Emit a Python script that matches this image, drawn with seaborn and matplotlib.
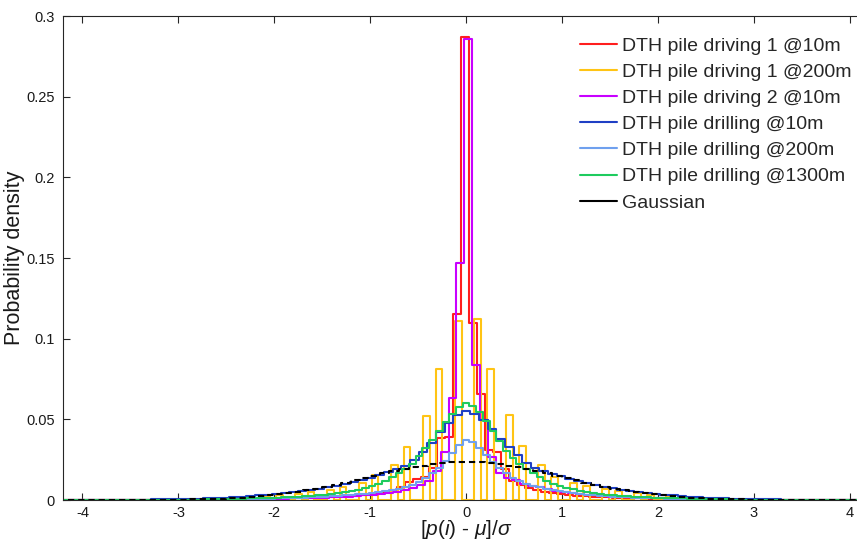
import numpy as np
import pandas as pd
import matplotlib
matplotlib.use("Agg")
import matplotlib.pyplot as plt
from matplotlib.lines import Line2D
import seaborn as sns

# ---------------- data ----------------
series_names = [
    "DTH pile driving 1 @10m",
    "DTH pile driving 1 @200m",
    "DTH pile driving 2 @10m",
    "DTH pile drilling @10m",
    "DTH pile drilling @200m",
    "DTH pile drilling @1300m",
    "Gaussian",
]
colors = ["#FF1E1E", "#FFC414", "#C800FF", "#1F3FC4", "#6FA0EE", "#1ECB5E", "#000000"]

tail_left = [-4.3, -3.5, -3.0, -2.5]
tail_right = [2.5, 3.0, 3.5, 4.3]

# DTH pile driving 1 @10m (bin centres -0.01 + 0.083 k)
red_x = list(tail_left) + list(np.round(-0.01 + 0.083 * np.arange(-24, 25), 4)) + list(tail_right)
red_y = [0.0, 0.0001, 0.0002, 0.0004,
         0.0007, 0.0008, 0.0009, 0.0010, 0.0011, 0.0012, 0.0014, 0.0016, 0.0019, 0.0022, 0.0026, 0.0031,
         0.0036, 0.0043, 0.0050, 0.0060, 0.0078, 0.0112, 0.0130, 0.0140, 0.0200, 0.0385, 0.0390, 0.1150,
         0.2870,
         0.1100, 0.0660, 0.0310, 0.0300, 0.0190, 0.0120, 0.0095, 0.0075, 0.0062, 0.0052, 0.0045, 0.0038,
         0.0032, 0.0027, 0.0023, 0.0020, 0.0018, 0.0016, 0.0014, 0.0012, 0.0011, 0.0010, 0.0009, 0.0008,
         0.0004, 0.0002, 0.0001, 0.0]

# DTH pile driving 1 @200m (bin centres -0.08 + 0.0667 k)
yellow_x = [-4.3] + list(np.round(-0.08 + 0.0667 * np.arange(-36, 37), 4)) + [4.3]
yellow_y = [0.0,
            0.0, 0.0014, 0.0, 0.0018, 0.0, 0.0, 0.0024, 0.0, 0.0031, 0.0, 0.0, 0.0040, 0.0, 0.0050,
            0.0, 0.0, 0.0062, 0.0, 0.0083, 0.0, 0.0, 0.0105, 0.0, 0.0155, 0.0, 0.0, 0.0220, 0.0,
            0.0330, 0.0, 0.0, 0.0520, 0.0, 0.0810, 0.0, 0.0,
            0.1110,
            0.0, 0.0, 0.1120, 0.0, 0.0810, 0.0, 0.0, 0.0527, 0.0, 0.0335, 0.0, 0.0, 0.0217, 0.0,
            0.0145, 0.0, 0.0, 0.0107, 0.0, 0.0087, 0.0, 0.0, 0.0068, 0.0, 0.0054, 0.0, 0.0, 0.0042,
            0.0, 0.0033, 0.0, 0.0, 0.0025, 0.0, 0.0019, 0.0,
            0.0]

# DTH pile driving 2 @10m (bin centres 0.024 + 0.083 k)
purple_x = list(tail_left) + list(np.round(0.024 + 0.083 * np.arange(-24, 25), 4)) + list(tail_right)
purple_y = [0.0, 0.0001, 0.0002, 0.0004,
            0.0008, 0.0009, 0.0010, 0.0011, 0.0012, 0.0013, 0.0015, 0.0017, 0.0019, 0.0021, 0.0024, 0.0028,
            0.0032, 0.0037, 0.0043, 0.0050, 0.0060, 0.0072, 0.0090, 0.0120, 0.0180, 0.0300, 0.0630, 0.1470,
            0.2855,
            0.0835, 0.0496, 0.0268, 0.0165, 0.0135, 0.0122, 0.0102, 0.0088, 0.0078, 0.0068, 0.0058, 0.0050,
            0.0043, 0.0037, 0.0032, 0.0028, 0.0024, 0.0021, 0.0019, 0.0017, 0.0015, 0.0013, 0.0012, 0.0011,
            0.0004, 0.0002, 0.0001, 0.0]

# DTH pile drilling @10m (bin centres 0.09 k)
blue_x = list(np.round(0.09 * np.arange(-46, 47), 4))
blue_y = [0.0001, 0.0001, 0.0001, 0.0001, 0.0001, 0.0002, 0.0002, 0.0002, 0.0003, 0.0003, 0.0004, 0.0005,
          0.0006, 0.0007, 0.0008, 0.0009, 0.0011, 0.0013, 0.0015, 0.0018, 0.0021, 0.0024, 0.0028, 0.0032,
          0.0037, 0.0042, 0.0047, 0.0054, 0.0061, 0.0069, 0.0078, 0.0088, 0.0099, 0.0111, 0.0124, 0.0138,
          0.0155, 0.0172, 0.0190, 0.0212, 0.0250, 0.0300, 0.0355, 0.0420, 0.0480, 0.0528,
          0.0550,
          0.0535, 0.0495, 0.0440, 0.0380, 0.0330, 0.0280, 0.0232, 0.0198, 0.0178, 0.0161, 0.0147, 0.0132,
          0.0119, 0.0106, 0.0094, 0.0083, 0.0073, 0.0064, 0.0056, 0.0049, 0.0043, 0.0037, 0.0032, 0.0028,
          0.0024, 0.0021, 0.0018, 0.0015, 0.0013, 0.0011, 0.0009, 0.0008, 0.0007, 0.0006, 0.0005, 0.0004,
          0.0003, 0.0003, 0.0002, 0.0002, 0.0002, 0.0001, 0.0001, 0.0001, 0.0001, 0.0001]

# DTH pile drilling @200m (bin centres 0.07 k)
lblue_x = list(tail_left) + list(np.round(0.07 * np.arange(-30, 31), 4)) + list(tail_right)
lblue_y = [0.0, 0.0001, 0.0002, 0.0004,
           0.0008, 0.0009, 0.0010, 0.0011, 0.0012, 0.0013, 0.0015, 0.0017, 0.0019, 0.0021, 0.0023, 0.0026,
           0.0029, 0.0032, 0.0036, 0.0040, 0.0045, 0.0050, 0.0056, 0.0063, 0.0071, 0.0081, 0.0093, 0.0110,
           0.0135, 0.0165, 0.0200, 0.0240, 0.0290, 0.0340,
           0.0372,
           0.0358, 0.0325, 0.0280, 0.0238, 0.0200, 0.0165, 0.0135, 0.0115, 0.0100, 0.0088, 0.0078, 0.0069,
           0.0061, 0.0054, 0.0048, 0.0043, 0.0038, 0.0034, 0.0030, 0.0027, 0.0024, 0.0021, 0.0019, 0.0017,
           0.0015, 0.0013, 0.0012, 0.0011, 0.0010, 0.0009,
           0.0005, 0.0002, 0.0001, 0.0]

# DTH pile drilling @1300m (bin centres 0.07 k)
green_x = list(tail_left) + list(np.round(0.07 * np.arange(-30, 31), 4)) + list(tail_right)
green_y = [0.0, 0.0001, 0.0002, 0.0005,
           0.0011, 0.0012, 0.0014, 0.0016, 0.0018, 0.0020, 0.0023, 0.0026, 0.0029, 0.0033, 0.0038, 0.0043,
           0.0049, 0.0056, 0.0064, 0.0073, 0.0084, 0.0097, 0.0115, 0.0140, 0.0165, 0.0190, 0.0225, 0.0270,
           0.0320, 0.0375, 0.0430, 0.0485, 0.0535, 0.0575,
           0.0600,
           0.0585, 0.0545, 0.0490, 0.0425, 0.0365, 0.0305, 0.0262, 0.0222, 0.0192, 0.0168, 0.0143, 0.0120,
           0.0100, 0.0086, 0.0075, 0.0066, 0.0058, 0.0051, 0.0045, 0.0039, 0.0034, 0.0030, 0.0026, 0.0023,
           0.0020, 0.0018, 0.0016, 0.0014, 0.0012, 0.0011,
           0.0005, 0.0002, 0.0001, 0.0]

# Gaussian reference (bin centres -4.15 ... 4.15, step 0.1)
gauss_x = list(np.round(0.1 * np.arange(-41.5, 42), 3))
gauss_y = [0.0, 0.00001, 0.00001, 0.00001, 0.00002, 0.00003, 0.00004, 0.00006, 0.00009, 0.00012,
           0.00017, 0.00023, 0.00030, 0.00041, 0.00054, 0.00070, 0.00091, 0.00117, 0.00149, 0.00188,
           0.00234, 0.00289, 0.00353, 0.00426, 0.00510, 0.00605, 0.00710, 0.00825, 0.00949, 0.01080,
           0.01218, 0.01360, 0.01503, 0.01644, 0.01781, 0.01911, 0.02029, 0.02133, 0.02220, 0.02287,
           0.02334, 0.02357,
           0.02357, 0.02334, 0.02287, 0.02220, 0.02133, 0.02029, 0.01911, 0.01781, 0.01644, 0.01503,
           0.01360, 0.01218, 0.01080, 0.00949, 0.00825, 0.00710, 0.00605, 0.00510, 0.00426, 0.00353,
           0.00289, 0.00234, 0.00188, 0.00149, 0.00117, 0.00091, 0.00070, 0.00054, 0.00041, 0.00030,
           0.00023, 0.00017, 0.00012, 0.00009, 0.00006, 0.00004, 0.00003, 0.00002, 0.00001, 0.00001,
           0.00001, 0.0]

x_ticks = [-4, -3, -2, -1, 0, 1, 2, 3, 4]
x_ticklabels = ["-4", "-3", "-2", "-1", "0", "1", "2", "3", "4"]
y_ticks = [0, 0.05, 0.1, 0.15, 0.2, 0.25, 0.3]
y_ticklabels = ["0", "0.05", "0.1", "0.15", "0.2", "0.25", "0.3"]

# ---------------- style ----------------
sns.set_theme(style="white")
plt.rcParams["font.family"] = ["Liberation Sans", "DejaVu Sans"]
plt.rcParams["mathtext.fontset"] = "custom"
plt.rcParams["mathtext.rm"] = "Liberation Sans"
plt.rcParams["mathtext.it"] = "Liberation Sans:italic"
plt.rcParams["axes.unicode_minus"] = False

fig = plt.figure(figsize=(8.57, 5.48), dpi=100, facecolor="white")
ax = fig.add_axes([63.3 / 857, 48 / 548, 805.6 / 857, 484 / 548])
ax.set_facecolor("white")

all_series = [(red_x, red_y), (yellow_x, yellow_y), (purple_x, purple_y), (blue_x, blue_y),
              (lblue_x, lblue_y), (green_x, green_y), (gauss_x, gauss_y)]

lw = 1.5
for name, (xs, ys), col in zip(series_names, all_series, colors):
    df = pd.DataFrame({"x": np.asarray(xs, dtype=float), "density": np.asarray(ys, dtype=float)})
    sns.lineplot(data=df, x="x", y="density", ax=ax, color=col, lw=lw,
                 drawstyle="steps-mid", estimator=None, legend=False)
    if name == "Gaussian":
        ax.lines[-1].set_linestyle((0, (3.0, 1.9)))

ax.set_xlim(-4.2, 4.2)
ax.set_ylim(0, 0.3)
ax.set_xticks(x_ticks)
ax.set_xticklabels(x_ticklabels)
ax.set_yticks(y_ticks)
ax.set_yticklabels(y_ticklabels)

spine_col = "#262626"
for s in ax.spines.values():
    s.set_visible(True)
    s.set_color(spine_col)
    s.set_linewidth(0.8)

ax.tick_params(axis="both", direction="in", length=5, width=0.8, color=spine_col,
               labelsize=10.5, labelcolor="#1a1a1a", top=True, bottom=True, left=True, right=False)
ax.tick_params(axis="y", pad=6)
ax.tick_params(axis="x", pad=4)

ax.set_xlabel(r"[$p$($i$) - $\mu$]/$\sigma$", fontsize=15, color="#1a1a1a")
ax.set_ylabel("Probability density", fontsize=15.5, color="#1a1a1a")
ax.xaxis.set_label_coords(0.5, -0.038)
ax.yaxis.set_label_coords(-0.048, 0.5)

handles = [Line2D([0], [0], color=c, lw=lw) for c in colors]
fig.legend(handles, series_names, loc="upper left", bbox_to_anchor=(580 / 857, 1 - 37 / 548),
           frameon=False, fontsize=14, handlelength=1.9, handletextpad=0.28,
           labelspacing=0.44, borderpad=0, borderaxespad=0)

fig.savefig("out.png", dpi=100, facecolor="white")
